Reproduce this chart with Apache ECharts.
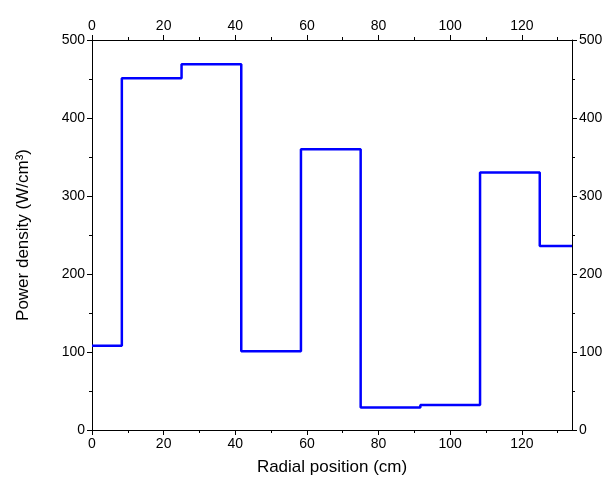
<!DOCTYPE html>
<html>
<head>
<meta charset="utf-8">
<script src="https://cdn.jsdelivr.net/npm/echarts@6/dist/echarts.min.js"></script>
<style>
  html, body { margin: 0; padding: 0; background: #fff; }
  #chart { width: 609px; height: 491px; }
</style>
</head>
<body>
<div id="chart"></div>
<script>
// Start of each radial zone (cm) and its power density (W/cm³)
const zoneStarts = [0, 8.33, 25, 41.67, 58.33, 75, 91.67, 108.33, 125];
const zoneEnd = 134;
const powerDensity = [108, 451, 469, 101, 360, 29, 32, 330, 236];

const xTicks = [0, 20, 40, 60, 80, 100, 120];
const xMinorTicks = [10, 30, 50, 70, 90, 110, 130];
const yTicks = [0, 100, 200, 300, 400, 500];

// Step profile: each zone value holds until the next zone starts
const stepPoints = zoneStarts.map((x, i) => [x, powerDensity[i]]);
stepPoints.push([zoneEnd, powerDensity[powerDensity.length - 1]]);

const FONT = 'Liberation Sans, Arial, sans-serif';
const black = '#000';
const labelStyle = { color: black, fontFamily: FONT, fontSize: 14, margin: 7 };
const nameStyle = { color: black, fontFamily: FONT, fontSize: 17 };

// Horizontal axis with major ticks + labels, plus a silent twin for minor ticks
function xMajor(position, extra) {
  return Object.assign({
    type: 'value', position, min: 0, max: zoneEnd,
    axisLine: { show: true, onZero: false, lineStyle: { color: black, width: 1 } },
    axisTick: { show: true, length: 5, customValues: xTicks, lineStyle: { color: black, width: 1 } },
    axisLabel: Object.assign({ customValues: xTicks }, labelStyle),
    splitLine: { show: false },
    nameTextStyle: nameStyle
  }, extra || {});
}
function xMinor(position) {
  return {
    type: 'value', position, min: 0, max: zoneEnd,
    axisLine: { show: false, onZero: false },
    axisTick: { show: true, length: 3, customValues: xMinorTicks, lineStyle: { color: black, width: 1 } },
    axisLabel: { show: false },
    splitLine: { show: false }
  };
}
function yAxisDef(position, extra) {
  return Object.assign({
    type: 'value', position, min: 0, max: 500, interval: 100,
    axisLine: { show: true, onZero: false, lineStyle: { color: black, width: 1 } },
    axisTick: { show: true, length: 5, lineStyle: { color: black, width: 1 } },
    minorTick: { show: true, splitNumber: 2, length: 3, lineStyle: { color: black, width: 1 } },
    axisLabel: labelStyle,
    splitLine: { show: false },
    nameTextStyle: nameStyle
  }, extra || {});
}

const chart = echarts.init(document.getElementById('chart'), null, { renderer: 'canvas' });
chart.setOption({
  animation: false,
  backgroundColor: '#fff',
  grid: { left: 92, right: 37, top: 40, bottom: 61, containLabel: false },
  xAxis: [
    xMajor('bottom', { name: 'Radial position (cm)', nameLocation: 'middle', nameGap: 29 }),
    xMajor('top'),
    xMinor('bottom'),
    xMinor('top')
  ],
  yAxis: [
    yAxisDef('left', { name: 'Power density (W/cm³)', nameLocation: 'middle', nameGap: 60, nameRotate: 90 }),
    yAxisDef('right')
  ],
  series: [{
    type: 'line',
    xAxisIndex: 0,
    yAxisIndex: 0,
    step: 'end',
    data: stepPoints,
    showSymbol: false,
    symbol: 'none',
    lineStyle: { color: '#0000ff', width: 2.5 },
    clip: true
  }]
});
</script>
</body>
</html>
